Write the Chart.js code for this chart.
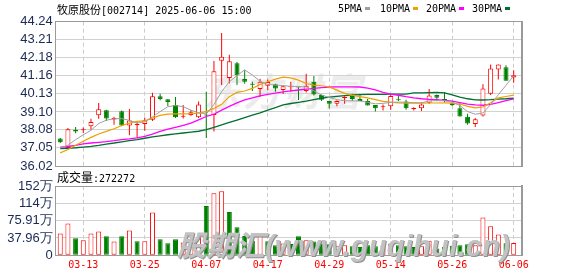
<!DOCTYPE html>
<html><head><meta charset="utf-8">
<script src="https://cdn.jsdelivr.net/npm/chart.js@4/dist/chart.umd.min.js"></script>
<style>
html,body{margin:0;padding:0;background:#fff;}
#wrap{position:relative;width:578px;height:276px;overflow:hidden;background:#fff;}
canvas{position:absolute;left:0;}
#c1{top:0;z-index:2;} #c2{top:170px;z-index:2;}
.t{position:absolute;white-space:nowrap;line-height:14px;color:#000;z-index:3;}
.mono{font-family:"DejaVu Sans Mono",monospace;font-size:10px;}
.cjk{font-family:"Noto Sans CJK SC",sans-serif;font-size:11px;}
.sq{position:absolute;width:5px;height:3px;z-index:3;}
#wm1{position:absolute;left:203px;top:62px;font:italic bold 38px "Noto Sans CJK SC",sans-serif;color:#ececec;letter-spacing:2px;z-index:1;white-space:nowrap;}
#wm2{position:absolute;left:177px;top:222px;font:italic bold 29px "Liberation Sans","Noto Sans CJK SC",sans-serif;color:#c2c2c2;text-shadow:1px 1px 0 #8f8f8f;z-index:4;white-space:nowrap;letter-spacing:0.3px;}
</style></head><body>
<div id="wrap">
<div id="wm1">东方财富</div>
<canvas id="c1" width="578" height="176" style="width:578px;height:176px"></canvas>
<canvas id="c2" width="578" height="106" style="width:578px;height:106px"></canvas>
<div class="t" style="left:57px;top:2px;"><span class="cjk">牧原股份</span><span class="mono">[002714] 2025-06-06 15:00</span></div>
<div class="t mono" style="left:338px;top:2px;">5PMA</div><div class="sq" style="left:365px;top:7px;background:#a0a0a0"></div>
<div class="t mono" style="left:380px;top:2px;">10PMA</div><div class="sq" style="left:413px;top:7px;background:#f0a000"></div>
<div class="t mono" style="left:426px;top:2px;">20PMA</div><div class="sq" style="left:459px;top:7px;background:#ff00ff"></div>
<div class="t mono" style="left:472px;top:2px;">30PMA</div><div class="sq" style="left:505px;top:7px;background:#006f30"></div>
<div class="t" style="left:57px;top:170px;"><span class="cjk" style="font-size:12px">成交量</span><span class="mono">:272272</span></div>
<div id="wm2">股期汇(www.guqihui.cn)</div>
</div>
<script>
// ---- data ----
const categories = ['03-10','03-11','03-12','03-13','03-14','03-17','03-18','03-19','03-20','03-21',
 '03-24','03-25','03-26','03-27','03-28','03-31','04-01','04-02','04-03','04-07',
 '04-08','04-09','04-10','04-11','04-14','04-15','04-16','04-17','04-18','04-21',
 '04-22','04-23','04-24','04-25','04-28','04-29','04-30','05-06','05-07','05-08',
 '05-09','05-12','05-13','05-14','05-15','05-16','05-19','05-20','05-21','05-22',
 '05-23','05-26','05-27','05-28','05-29','05-30','06-03','06-04','06-05','06-06'];
const opens  = [37.58,37.05,38.08,38.05,38.29,38.91,39.20,38.67,39.14,38.33,
 38.35,38.41,38.65,40.00,39.82,39.50,38.82,38.93,38.80,38.95,
 38.93,42.02,41.04,41.87,40.97,40.67,40.40,40.59,40.67,40.35,
 40.50,40.50,40.29,40.82,40.06,39.72,39.57,39.90,40.01,39.84,
 39.72,39.50,39.36,39.42,39.78,39.69,39.27,39.31,39.63,40.06,
 39.84,39.59,39.31,38.82,38.41,38.90,40.14,41.51,41.65,41.06];
const highs  = [37.62,38.18,38.24,38.22,38.71,39.61,39.23,38.82,39.18,39.27,
 38.59,38.78,40.19,40.14,39.82,39.95,39.50,39.21,39.69,40.25,
 42.00,43.59,42.36,41.95,41.48,40.82,40.99,40.95,40.70,40.61,
 40.82,40.50,41.27,41.14,40.10,39.72,39.76,40.00,40.14,40.06,
 39.84,39.50,39.53,40.06,40.06,39.80,39.37,39.65,40.40,40.10,
 40.23,39.74,39.63,38.99,38.75,40.67,41.80,41.80,41.76,41.48];
const lows   = [37.33,37.01,37.88,37.90,38.09,38.71,38.59,38.37,38.29,37.77,
 37.62,38.03,38.59,39.76,39.44,38.75,38.73,38.88,38.75,37.62,
 37.99,40.63,40.72,40.63,40.70,40.29,39.97,40.33,40.25,40.12,
 40.25,39.78,40.21,40.03,39.72,39.31,39.42,39.57,39.72,39.72,
 39.46,39.12,39.18,39.22,39.72,39.23,39.18,39.16,39.57,39.72,
 39.65,39.44,38.84,38.37,38.24,38.84,40.06,40.95,40.87,40.76];
const closes = [37.37,38.12,37.99,38.07,38.52,39.25,38.73,38.76,38.33,38.61,
 38.37,38.63,39.99,39.84,39.67,38.80,38.84,39.08,39.53,38.90,
 41.42,42.25,41.98,41.19,40.82,40.65,40.82,40.80,40.44,40.57,
 40.52,40.49,40.59,40.10,39.80,39.57,39.72,39.92,39.84,39.72,
 39.46,39.31,39.38,40.01,39.76,39.31,39.29,39.53,40.04,39.91,
 39.72,39.48,38.84,38.44,38.69,40.44,41.57,41.80,40.87,41.19];
const prevClose = 37.20;
const volumes = [47.7,69.7,37.4,33.0,47.7,52.1,41.8,30.1,41.8,54.3,
 30.8,30.8,93.9,35.2,26.4,35.2,28.0,25.0,38.0,108.0,
 135.7,140.5,94.6,61.3,42.2,32.0,44.0,31.0,22.0,26.0,
 25.0,41.8,33.0,30.0,25.0,24.0,20.0,22.0,20.0,18.0,
 22.0,20.0,22.0,26.0,22.0,20.0,18.0,20.0,32.0,15.0,
 18.0,21.0,22.0,24.0,22.0,83.0,63.8,45.5,26.4,27.2];
const ma5  = [37.05,37.20,37.52,37.80,38.05,38.44,38.63,38.71,38.72,38.62,
 38.46,38.54,38.82,39.12,39.40,39.46,39.40,39.20,39.06,38.98,
 39.53,40.25,40.82,41.17,41.50,41.20,40.85,40.67,40.63,40.60,
 40.56,40.55,40.52,40.30,40.06,39.92,39.80,39.74,39.73,39.72,
 39.65,39.56,39.59,39.64,39.66,39.65,39.63,39.62,39.73,39.74,
 39.74,39.66,39.46,39.12,38.97,39.04,39.52,40.08,40.62,41.16];
const ma10 = [36.77,36.96,37.20,37.43,37.65,37.84,37.99,38.14,38.33,38.46,
 38.56,38.59,38.75,38.90,38.97,38.99,38.99,39.00,39.03,39.12,
 39.30,39.53,39.97,40.21,40.29,40.44,40.67,40.82,40.97,41.08,
 41.04,40.91,40.72,40.63,40.59,40.53,40.34,40.16,40.06,39.97,
 39.90,39.80,39.70,39.66,39.62,39.60,39.60,39.60,39.61,39.61,
 39.62,39.60,39.55,39.42,39.33,39.38,39.62,39.90,39.98,40.06];
const ma20 = [37.09,37.13,37.20,37.28,37.33,37.37,37.41,37.46,37.52,37.56,
 37.62,37.71,37.84,37.99,38.12,38.22,38.33,38.46,38.65,38.84,
 38.97,39.20,39.42,39.62,39.78,39.90,40.02,40.10,40.17,40.24,
 40.30,40.35,40.40,40.44,40.48,40.52,40.53,40.53,40.53,40.52,
 40.45,40.35,40.22,40.12,40.05,39.97,39.90,39.85,39.82,39.80,
 39.76,39.71,39.63,39.55,39.50,39.48,39.53,39.63,39.74,39.84];
const ma30 = [37.01,37.03,37.06,37.10,37.14,37.20,37.27,37.33,37.40,37.46,
 37.52,37.60,37.68,37.74,37.80,37.85,37.90,37.95,38.00,38.09,
 38.22,38.36,38.50,38.64,38.78,38.92,39.05,39.20,39.35,39.50,
 39.58,39.65,39.72,39.80,39.88,39.94,39.99,40.03,40.07,40.09,
 40.10,40.10,40.10,40.11,40.12,40.12,40.18,40.19,40.20,40.21,
 40.18,40.07,39.95,39.85,39.79,39.78,39.80,39.83,39.85,39.88];
const priceTickLabels = ['36.02','37.05','38.08','39.10','40.13','41.16','42.18','43.21','44.24'];
const volTickValues = [0, 37.955, 75.91, 113.865, 151.82];
const volTickLabels = ['0','37.96万','75.91万','114万','152万'];
const dateTickLabels = ['03-13','03-25','04-07','04-17','04-29','05-14','05-26','06-06'];

// ---- styling / layout ----
const RED = '#ff0000', GREEN = '#008000', LABEL = '#1b2a55';
const X_MIN = -0.59, X_MAX = 60.12;
const idx = categories.map((_, i) => i);
const tickIdx = dateTickLabels.map(d => categories.indexOf(d));
const candleUp = closes.map((c, i) => c >= opens[i]);
const volUp = closes.map((c, i) => c >= (i ? closes[i - 1] : prevClose));

function frameAxes() {
  return {
    xTop: {type:'linear', position:'top', min:0, max:1, bounds:'data',
      grid:{lineWidth:0, drawTicks:false}, ticks:{display:false},
      border:{display:true, color:'#9a9a9a', width:1},
      afterFit: s => { s.height = 0; s.paddingLeft = 0; s.paddingRight = 0; }},
    yRight: {type:'linear', position:'right', min:0, max:1, bounds:'data',
      grid:{lineWidth:0, drawTicks:false}, ticks:{display:false},
      border:{display:true, color:'#9a9a9a', width:2},
      afterFit: s => { s.width = 0; s.paddingTop = 0; s.paddingBottom = 0; }}
  };
}
function xAxis(showLabels, height) {
  return {type:'linear', position:'bottom', min:X_MIN, max:X_MAX, bounds:'data', offset:false,
    grid:{color:'#cccccc', lineWidth:1, drawTicks:false, offset:false},
    border:{display:true, color:'#9a9a9a', width:1, dash:[4,3]},
    ticks: showLabels ? {display:true, autoSkip:false, maxRotation:0, color:RED, padding:4,
      font:{family:'DejaVu Sans Mono', size:10}, callback:(v, i) => dateTickLabels[i]} : {display:false},
    afterBuildTicks: s => { s.ticks = tickIdx.map(v => ({value:v})); },
    afterFit: s => { s.height = height; s.paddingLeft = 0; s.paddingRight = 0; }};
}
function yAxis(min, max, values, labels) {
  return {type:'linear', position:'left', min, max, bounds:'data', beginAtZero:false,
    grid:{color:'#d2d2d2', lineWidth:1, drawTicks:false},
    border:{display:true, color:'#9a9a9a', width:1},
    ticks:{autoSkip:false, padding:3, color:LABEL, font:{family:'Liberation Sans', size:13},
      callback:(v, i) => labels[i]},
    afterBuildTicks: s => { s.ticks = values.map(v => ({value:v})); },
    afterFit: s => { s.width = 55.7; s.paddingTop = 0; s.paddingBottom = 0; }};
}
function lineDs(label, arr, color, w) {
  return {type:'line', label, data: idx.map(i => ({x:i, y:arr[i]})), borderColor:color,
    borderWidth:w, pointRadius:0, tension:0, fill:false, order:1};
}
const common = {responsive:false, animation:false, events:[],
  plugins:{legend:{display:false}, tooltip:{enabled:false}}};

new Chart(document.getElementById('c1'), {
  type:'bar',
  data:{datasets:[
    lineDs('MA5', ma5, '#a0a0a0', 1),
    lineDs('MA10', ma10, '#f0a000', 1.2),
    lineDs('MA20', ma20, '#ff00ff', 1.3),
    lineDs('MA30', ma30, '#006f30', 1.3),
    {type:'bar', label:'body', data: idx.map(i => ({x:i, y:[opens[i], closes[i]]})),
      backgroundColor: candleUp.map(u => u ? '#ffffff' : GREEN),
      borderColor: candleUp.map(u => u ? RED : GREEN),
      borderWidth:1, borderSkipped:false, inflateAmount:0, barThickness:5, maxBarThickness:5,
      grouped:false, minBarLength:1, order:10},
    {type:'bar', label:'wick', data: idx.map(i => ({x:i, y:[lows[i], highs[i]]})),
      backgroundColor: candleUp.map(u => u ? RED : GREEN), borderWidth:0, inflateAmount:0,
      barThickness:1, maxBarThickness:1, grouped:false, order:11}
  ]},
  options:{...common,
    layout:{padding:{left:0, right:55.7, top:21.7, bottom:10}},
    scales:{
      x: xAxis(false, 0),
      y: yAxis(+priceTickLabels[0], +priceTickLabels[priceTickLabels.length - 1],
               priceTickLabels.map(Number), priceTickLabels),
      ...frameAxes()
    }}
});

new Chart(document.getElementById('c2'), {
  type:'bar',
  data:{datasets:[
    {label:'vol', data: idx.map(i => ({x:i, y:volumes[i]})),
      backgroundColor: volUp.map(u => u ? '#ffffff' : GREEN),
      borderColor: volUp.map(u => u ? RED : GREEN),
      borderWidth:1, borderSkipped:false, inflateAmount:0, barThickness:5, maxBarThickness:5,
      grouped:false}
  ]},
  options:{...common,
    layout:{padding:{left:0, right:55.7, top:16, bottom:0}},
    scales:{
      x: xAxis(true, 20.7),
      y: yAxis(volTickValues[0], volTickValues[volTickValues.length - 1], volTickValues, volTickLabels),
      ...frameAxes()
    }}
});
</script>
</body></html>
